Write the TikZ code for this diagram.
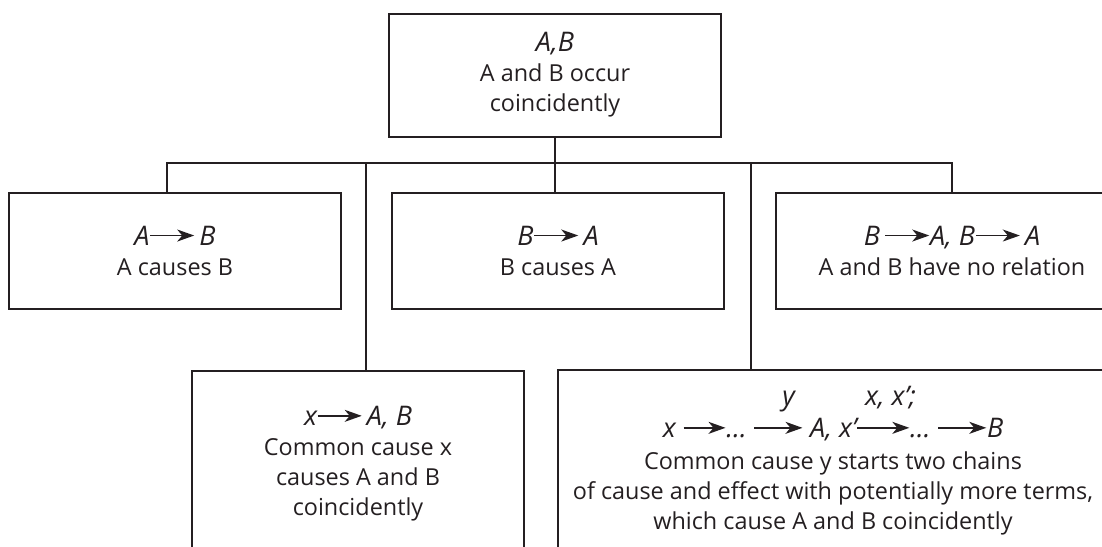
\documentclass[tikz,border=0pt]{standalone}
\usepackage{fontspec}
\setmainfont{Open Sans}
\usepackage{tikz}
\usetikzlibrary{arrows.meta}
\definecolor{dgray}{rgb}{0.14, 0.12, 0.13}
\tikzset{box/.style = {draw = dgray, line width = 1pt, minimum width = 166pt,
                       minimum height = 57.8pt, align = center, inner sep = 0pt,
                       text = dgray, font = \fontsize{11.7}{15}\selectfont}}
\tikzset{branch/.style = {dgray, line width = 1pt}}
\newcommand{\causes}[1][22pt]{\tikz[baseline = -5pt] \draw [dgray, line width = 0.75pt,
    -{Stealth[length = 8.5pt, width = 6pt, inset = 2.5pt]}] (0pt, 0pt) -- (#1, 0pt);}
\newcommand{\fml}[1]{{\fontsize{13.5}{15}\selectfont\itshape #1}}

\begin{document}
\begin{tikzpicture}[x = 0.5pt, y = -0.5pt]
    \useasboundingbox (0, 0) rectangle (1102, 546);
    \clip (0, 0) rectangle (1102, 546);
    \node [box, minimum height = 61.5pt] (coinc) at (555, 75) {\fml{A,B}\\ A and B occur\\ coincidently};
    \node [box] (atob) at (175, 251) {\fml{A\causes\,B}\\ A causes B};
    \node [box] (btoa) at (558, 251) {\fml{B\causes\,A}\\ B causes A};
    \node [box, minimum width = 176pt] (norel) at (952, 251) {\fml{B\,\causes A, B\causes\,A}\\ A and B have no relation};
    \node [box, minimum height = 93pt] (common) at (358, 464) {\fml{x\causes\,A, B}\\ Common cause x\\ causes A and B\\ coincidently};
    \node [box, minimum width = 275pt, minimum height = 91pt] (chains) at (833, 461) {\fml{\hspace{1.2em}y\hspace{2.6em}x, x’;}\\[1pt]
        \fml{x \causes[21pt]\dots\ \causes[24pt] A, x’\causes[26pt]\dots\ \causes[24pt]B}\\[1pt]
        Common cause y starts two chains\\ of cause and effect with potentially more terms,\\ which cause A and B coincidently};
    \coordinate (busl) at (167, 163);
    \coordinate (busa) at (366, 163);
    \coordinate (busb) at (751, 163);
    \coordinate (busr) at (952, 163);
    \draw [branch] (busl |- atob.north) -- (busl) -- (busr) -- (norel.north);
    \draw [branch] (coinc.south) -- (coinc.south |- btoa.north);
    \draw [branch] (busa) -- (busa |- common.north);
    \draw [branch] (busb) -- (busb |- chains.north);
  \end{tikzpicture}
\end{document}
